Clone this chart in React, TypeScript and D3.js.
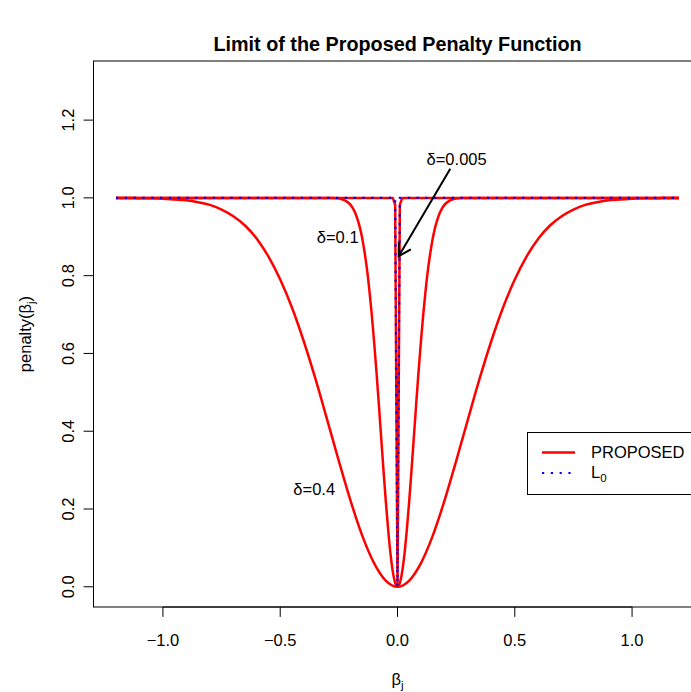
import React from "react";
import * as d3 from "d3";

// delta = 0.4 curve, read at a 0.05 step
const beta04 = [-1.2, -1.15, -1.1, -1.05, -1.0, -0.95, -0.9, -0.85, -0.8, -0.75, -0.7, -0.65, -0.6, -0.55, -0.5, -0.45, -0.4, -0.35, -0.3, -0.25, -0.2, -0.15, -0.1, -0.05, 0,
  0.05, 0.1, 0.15, 0.2, 0.25, 0.3, 0.35, 0.4, 0.45, 0.5, 0.55, 0.6, 0.65, 0.7, 0.75, 0.8, 0.85, 0.9, 0.95, 1.0, 1.05, 1.1, 1.15, 1.2];
const pen04 = [1.0, 1.0, 0.999, 0.999, 0.998, 0.996, 0.994, 0.989, 0.982, 0.97, 0.953, 0.929, 0.895, 0.849, 0.79, 0.718, 0.632, 0.535, 0.43, 0.323, 0.221, 0.131, 0.061, 0.016, 0,
  0.016, 0.061, 0.131, 0.221, 0.323, 0.43, 0.535, 0.632, 0.718, 0.79, 0.849, 0.895, 0.929, 0.953, 0.97, 0.982, 0.989, 0.994, 0.996, 0.998, 0.999, 0.999, 1.0, 1.0];

// delta = 0.1 curve, finer near zero
const beta01 = [-1.2, -0.28, -0.26, -0.24, -0.22, -0.2, -0.19, -0.18, -0.17, -0.16, -0.15, -0.14, -0.13, -0.12, -0.11, -0.1, -0.09, -0.08, -0.07, -0.06, -0.05, -0.04, -0.03, -0.02, -0.01, 0,
  0.01, 0.02, 0.03, 0.04, 0.05, 0.06, 0.07, 0.08, 0.09, 0.1, 0.11, 0.12, 0.13, 0.14, 0.15, 0.16, 0.17, 0.18, 0.19, 0.2, 0.22, 0.24, 0.26, 0.28, 1.2];
const pen01 = [1.0, 1.0, 0.999, 0.997, 0.992, 0.982, 0.973, 0.961, 0.944, 0.923, 0.895, 0.859, 0.816, 0.763, 0.702, 0.632, 0.555, 0.473, 0.387, 0.302, 0.221, 0.148, 0.086, 0.039, 0.01, 0,
  0.01, 0.039, 0.086, 0.148, 0.221, 0.302, 0.387, 0.473, 0.555, 0.632, 0.702, 0.763, 0.816, 0.859, 0.895, 0.923, 0.944, 0.961, 0.973, 0.982, 0.992, 0.997, 0.999, 1.0, 1.0];

// delta = 0.005 curve (a narrow notch)
const beta005 = [-1.2, -0.02, -0.01, 0, 0.01, 0.02, 1.2];
const pen005 = [1.0, 1.0, 0.982, 0, 0.982, 1.0, 1.0];

// L0 penalty
const betaL0 = [-1.2, -0.01, 0, 0.01, 1.2];
const penL0 = [1, 1, 0, 1, 1];

const xTicks = [-1.0, -0.5, 0.0, 0.5, 1.0];
const yTicks = [0.0, 0.2, 0.4, 0.6, 0.8, 1.0, 1.2];

const labels = [
  { text: "δ=0.4", b: -0.355, p: 0.25 },
  { text: "δ=0.1", b: -0.255, p: 0.9 },
  { text: "δ=0.005", b: 0.252, p: 1.1 },
];
const arrowFrom = [0.225, 1.075];
const arrowTo = [0.005, 0.85];

const W = 691;
const H = 692;
const FONT = "'Liberation Sans', Arial, Helvetica, sans-serif";

export default function App() {
  const x = d3.scaleLinear().domain([-1.296, 1.296]).range([93.5, 701.5]);
  const y = d3.scaleLinear().domain([-0.052, 1.352]).range([607, 61]);

  const mk = (bs: number[], ps: number[], curve: any) =>
    d3
      .line<number>()
      .x((_, i) => x(bs[i]))
      .y((d) => y(d))
      .curve(curve)(ps) || "";

  const curves = [
    mk(beta04, pen04, d3.curveMonotoneX),
    mk(beta01, pen01, d3.curveMonotoneX),
    mk(beta005, pen005, d3.curveLinear),
  ];
  const l0 = mk(betaL0, penL0, d3.curveLinear);

  // arrow head
  const ax1 = x(arrowFrom[0]), ay1 = y(arrowFrom[1]);
  const ax2 = x(arrowTo[0]), ay2 = y(arrowTo[1]);
  const ang = Math.atan2(ay1 - ay2, ax1 - ax2);
  const hl = 14;
  const h1 = [ax2 + hl * Math.cos(ang + Math.PI / 6), ay2 + hl * Math.sin(ang + Math.PI / 6)];
  const h2 = [ax2 + hl * Math.cos(ang - Math.PI / 6), ay2 + hl * Math.sin(ang - Math.PI / 6)];

  const plotTop = y.range()[1];
  const plotBot = y.range()[0];
  const plotL = x.range()[0];

  return (
    <svg
      width={W}
      height={H}
      style={{ position: "absolute", left: 0, top: 0, background: "#fff" }}
      fontFamily={FONT}
    >
      <defs>
        <clipPath id="plotClip">
          <rect x={plotL} y={plotTop} width={x.range()[1] - plotL} height={plotBot - plotTop} />
        </clipPath>
      </defs>

      <text x={(plotL + x.range()[1]) / 2} y={51} textAnchor="middle" fontSize={19.8} fontWeight="bold">
        Limit of the Proposed Penalty Function
      </text>

      <g clipPath="url(#plotClip)">
        {curves.map((d, i) => (
          <path key={i} d={d} fill="none" stroke="#ff0000" strokeWidth={2.5} strokeLinejoin="round" />
        ))}
        <path d={l0} fill="none" stroke="#0000ff" strokeWidth={2.2} strokeDasharray="2.2,6.6" />
      </g>

      {/* plot box */}
      <rect x={plotL} y={plotTop} width={x.range()[1] - plotL} height={plotBot - plotTop} fill="none" stroke="#000" strokeWidth={1} />

      {/* x axis */}
      <line x1={x(xTicks[0])} x2={x(xTicks[xTicks.length - 1])} y1={plotBot} y2={plotBot} stroke="#000" />
      {xTicks.map((t) => (
        <g key={t}>
          <line x1={x(t)} x2={x(t)} y1={plotBot} y2={plotBot + 9.9} stroke="#000" />
          <text x={x(t)} y={646} textAnchor="middle" fontSize={16.5}>
            {t < 0 ? "\u2212" + Math.abs(t).toFixed(1) : t.toFixed(1)}
          </text>
        </g>
      ))}
      <text x={(plotL + x.range()[1]) / 2} y={685} textAnchor="middle" fontSize={16.5}>
        β<tspan fontSize={11.5} dy={4}>j</tspan>
      </text>

      {/* y axis */}
      <line x1={plotL} x2={plotL} y1={y(yTicks[0])} y2={y(yTicks[yTicks.length - 1])} stroke="#000" />
      {yTicks.map((t) => (
        <g key={t}>
          <line x1={plotL} x2={plotL - 9.9} y1={y(t)} y2={y(t)} stroke="#000" />
          <text transform={`translate(73.5,${y(t)}) rotate(-90)`} textAnchor="middle" fontSize={16.5}>
            {t.toFixed(1)}
          </text>
        </g>
      ))}
      <text transform={`translate(31,${(plotTop + plotBot) / 2}) rotate(-90)`} textAnchor="middle" fontSize={16.5}>
        penalty(β<tspan fontSize={11.5} dy={4}>j</tspan><tspan dy={-4}>)</tspan>
      </text>

      {/* annotations */}
      {labels.map((l) => (
        <text key={l.text} x={x(l.b)} y={y(l.p)} dy="0.35em" textAnchor="middle" fontSize={16.5}>
          {l.text}
        </text>
      ))}
      <line x1={ax1} y1={ay1} x2={ax2} y2={ay2} stroke="#000" strokeWidth={2} />
      <polyline points={`${h1[0]},${h1[1]} ${ax2},${ay2} ${h2[0]},${h2[1]}`} fill="none" stroke="#000" strokeWidth={2} />

      {/* legend */}
      <rect x={527.5} y={432.5} width={200} height={62} fill="#fff" stroke="#000" />
      <line x1={542} x2={575} y1={452.5} y2={452.5} stroke="#ff0000" strokeWidth={2.5} />
      <text x={591} y={458} fontSize={16.5}>PROPOSED</text>
      <line x1={542} x2={575} y1={473} y2={473} stroke="#0000ff" strokeWidth={2.2} strokeDasharray="2.2,6.6" />
      <text x={591} y={478} fontSize={16.5}>
        L<tspan fontSize={11.5} dy={4}>0</tspan>
      </text>
    </svg>
  );
}
